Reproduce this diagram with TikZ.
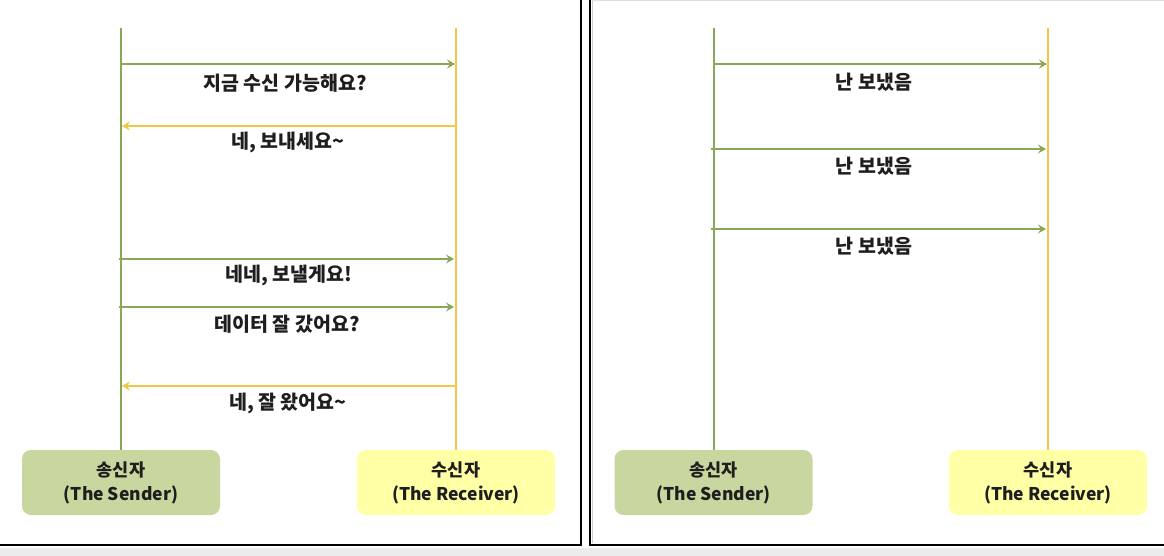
\documentclass[tikz,border=0pt]{standalone}
\usepackage{fontspec}
\setmainfont{Noto Sans CJK KR}
\usetikzlibrary{arrows.meta}
\definecolor{lgreen}{RGB}{138,166,88}
\definecolor{lgold}{RGB}{246,196,70}
\definecolor{sfill}{RGB}{200,214,160}
\definecolor{rfill}{RGB}{255,255,165}
\definecolor{txt}{RGB}{30,30,30}
\definecolor{strip}{RGB}{236,236,236}
\tikzset{
  life/.style={line width=2pt},
  msg/.style={line width=2pt,-{Stealth[length=8pt,width=9pt,inset=3pt]}},
  lbl/.style={font=\bfseries\fontsize{19.5}{22}\selectfont,text=txt,inner sep=0pt},
  party/.style={rounded corners=9pt,minimum width=198pt,minimum height=65pt,inner sep=0pt,
    align=center,font=\fontsize{17.5}{24}\selectfont\bfseries,text=txt},
  sbox/.style={party,fill=sfill},
  rbox/.style={party,fill=rfill},
  frame/.style={line width=2.2pt,black}
}
\begin{document}
\begin{tikzpicture}[x=1pt,y=-1pt]
\useasboundingbox (0,0) rectangle (1164,556);
\fill[white] (0,0) rectangle (1164,556);
\fill[strip] (0,548) rectangle (1164,556);
% frames
\draw[frame] (581,0) -- (581,545) -- (0,545);
\draw[frame] (590,0) -- (590,545) -- (1164,545);
\draw[gray!40,line width=1.5pt] (592.5,0) -- (592.5,543);
\draw[gray!25,line width=0.8pt] (592,0.5) -- (1164,0.5);
% ===== left panel =====
\node[sbox] (S1) at (121,482.5) {송신자\\(The Sender)};
\node[rbox] (R1) at (456,482.5) {수신자\\(The Receiver)};
\coordinate (s1top) at (121,28);
\coordinate (r1top) at (456,28);
\draw[life,lgreen] (s1top) -- (S1.north);
\draw[life,lgold] (r1top) -- (R1.north);
\coordinate (a1s) at (121,64);  \coordinate (a1e) at (455,64);
\coordinate (a2s) at (455,126); \coordinate (a2e) at (122,126);
\coordinate (a3s) at (119,259); \coordinate (a3e) at (454,259);
\coordinate (a4s) at (119,307); \coordinate (a4e) at (454,307);
\coordinate (a5s) at (455,386); \coordinate (a5e) at (122,386);
\draw[msg,lgreen] (a1s) -- (a1e);
\draw[msg,lgold] (a2s) -- (a2e);
\draw[msg,lgreen] (a3s) -- (a3e);
\draw[msg,lgreen] (a4s) -- (a4e);
\draw[msg,lgold] (a5s) -- (a5e);
\node[lbl] (t1) at (285,83) {지금 수신 가능해요?};
\node[lbl] (t2) at (288,142) {네, 보내세요\textasciitilde};
\node[lbl] (t3) at (289,275) {네네, 보낼게요!};
\node[lbl] (t4) at (287,324) {데이터 잘 갔어요?};
\node[lbl] (t5) at (288,403) {네, 잘 왔어요\textasciitilde};
% ===== right panel =====
\node[sbox] (S2) at (713.5,482.5) {송신자\\(The Sender)};
\node[rbox] (R2) at (1048,482.5) {수신자\\(The Receiver)};
\coordinate (s2top) at (713.5,28);
\coordinate (r2top) at (1048,28);
\draw[life,lgreen] (s2top) -- (S2.north);
\draw[life,lgold] (r2top) -- (R2.north);
\coordinate (b1s) at (713,64);  \coordinate (b1e) at (1047,64);
\coordinate (b2s) at (711,149); \coordinate (b2e) at (1046,149);
\coordinate (b3s) at (711,229); \coordinate (b3e) at (1046,229);
\draw[msg,lgreen] (b1s) -- (b1e);
\draw[msg,lgreen] (b2s) -- (b2e);
\draw[msg,lgreen] (b3s) -- (b3e);
\node[lbl] (u1) at (874,82) {난 보냈음};
\node[lbl] (u2) at (874,166) {난 보냈음};
\node[lbl] (u3) at (874,246) {난 보냈음};
\end{tikzpicture}
\end{document}
